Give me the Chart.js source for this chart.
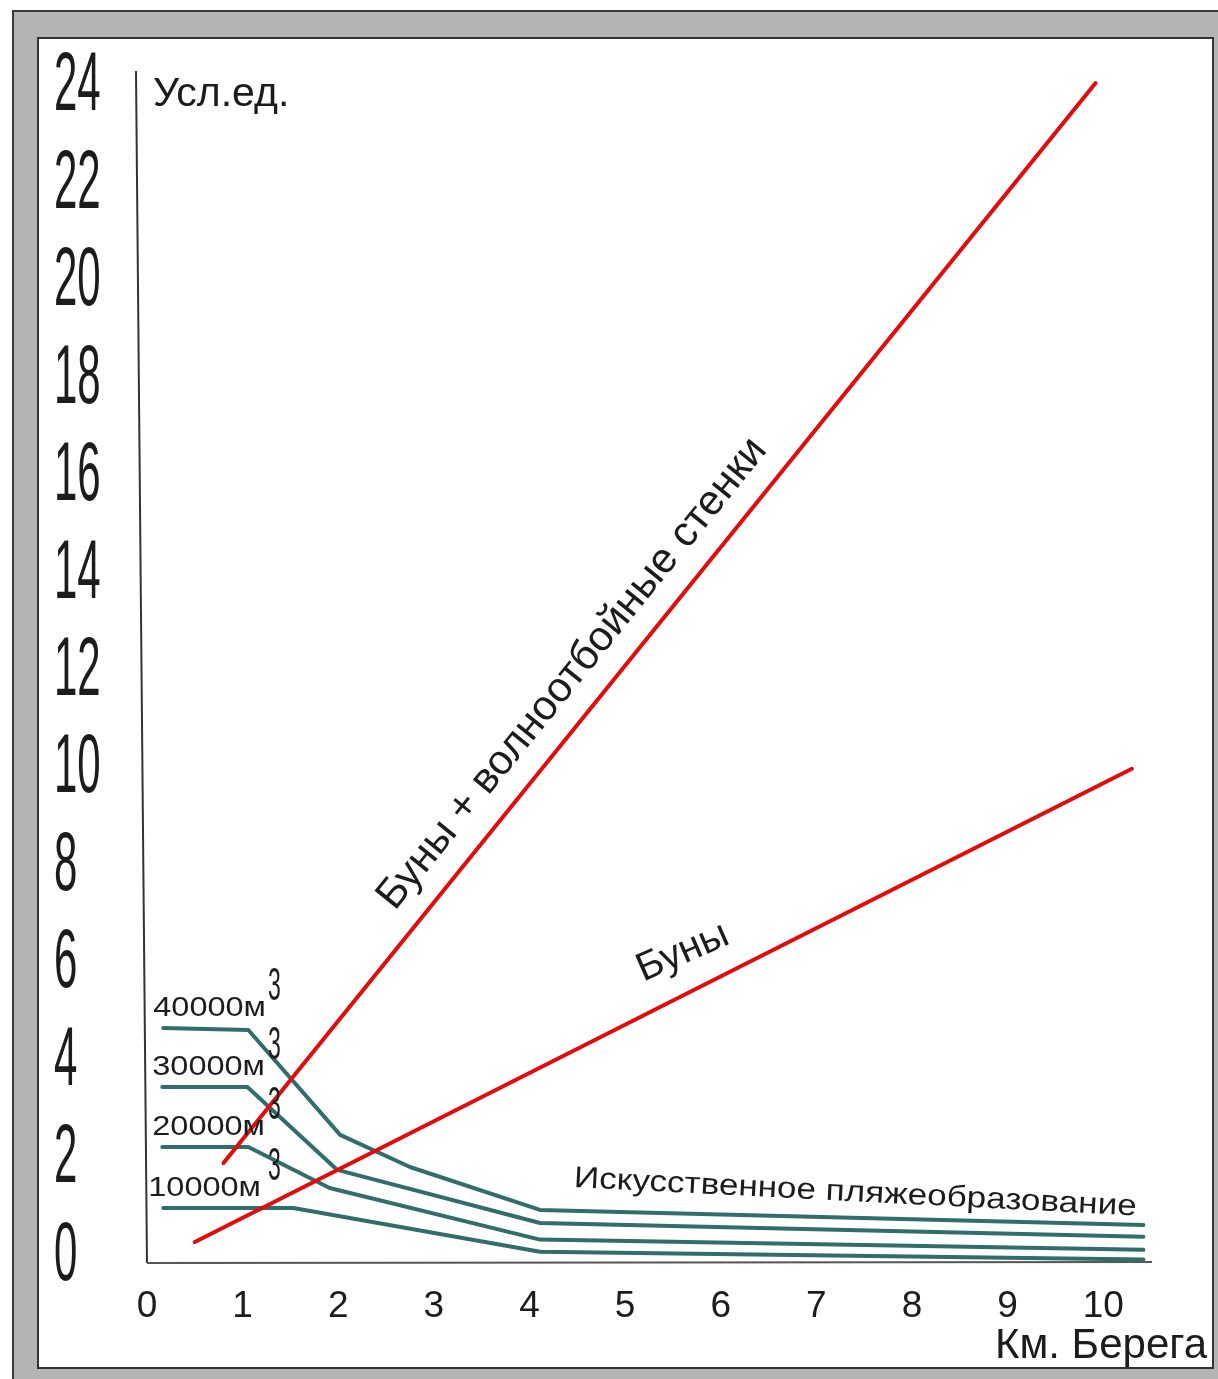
<html>
<head>
<meta charset="utf-8">
<script src="https://cdn.jsdelivr.net/npm/chart.js@4.4.1/dist/chart.umd.min.js"></script>
<style>
body { margin: 0; background: #fff; }
#outer { position: absolute; left: 12px; top: 10px; width: 1220px; height: 1380px; background: #b4b4b4; border-top: 2px solid #3a3a3a; border-left: 2px solid #3a3a3a; }
#inner { position: absolute; left: 37px; top: 37px; width: 1177px; height: 1332px; box-sizing: border-box; background: #fff; border: 2px solid #333; }
#wrap { position: absolute; left: 0; top: 0; width: 1218px; height: 1379px; }
</style>
</head>
<body>
<div id="outer"></div>
<div id="inner"></div>
<div id="wrap"><canvas id="chart" width="1218" height="1379"></canvas></div>
<script>
// tick labels
var xTicks = [0, 1, 2, 3, 4, 5, 6, 7, 8, 9, 10];
var yTicks = [0, 2, 4, 6, 8, 10, 12, 14, 16, 18, 20, 22, 24];

// red lines
var wallsX = [0.80, 9.92];
var wallsY = [1.78, 23.94];
var groinsX = [0.50, 10.30];
var groinsY = [0.16, 9.87];

// beach fill lines (teal), volume labels
var fill40X = [0.17, 1.06, 2.02, 2.75, 4.11, 10.42];
var fill40Y = [4.55, 4.51, 2.36, 1.70, 0.82, 0.51];
var fill30X = [0.16, 1.05, 1.99, 4.11, 10.42];
var fill30Y = [3.34, 3.34, 1.64, 0.55, 0.27];
var fill20X = [0.16, 1.06, 1.91, 4.11, 10.42];
var fill20Y = [2.11, 2.11, 1.27, 0.21, 0.00];
var fill10X = [0.17, 1.53, 4.11, 10.42];
var fill10Y = [0.86, 0.86, -0.04, -0.20];
var fillNames = ["40000м", "30000м", "20000м", "10000м"];

var RED = "#e30b0b", TEAL = "#2f6e6a", INK = "#1c1c1c";
var FONT = "'Liberation Sans', Arial, sans-serif";

function pts(xs, ys) {
	return xs.map(function(x, i) { return {x: x, y: ys[i]}; });
}

function line(label, xs, ys, color) {
	return {
		label: label,
		data: pts(xs, ys),
		borderColor: color,
		borderWidth: 4,
		pointRadius: 0,
		tension: 0,
		fill: false,
		borderJoinStyle: 'round',
		borderCapStyle: 'round'
	};
}

function text(ctx, str, x, y, font, opts) {
	opts = opts || {};
	ctx.save();
	ctx.translate(x, y);
	if (opts.angle) ctx.rotate(opts.angle * Math.PI / 180);
	ctx.scale(opts.sx || 1, 1);
	ctx.font = font;
	ctx.fillStyle = INK;
	ctx.textAlign = opts.align || 'left';
	ctx.textBaseline = 'alphabetic';
	ctx.fillText(str, 0, 0);
	ctx.restore();
}

var decor = {
	id: 'decor',
	beforeDatasetsDraw: function(chart) {
		var ctx = chart.ctx, a = chart.chartArea, xs = chart.scales.x;
		var x0 = xs.getPixelForValue(0);
		ctx.save();
		ctx.lineWidth = 2;
		ctx.strokeStyle = "#333";
		ctx.beginPath();
		ctx.moveTo(x0 - 11, a.top + 3);
		ctx.lineTo(x0, a.bottom);
		ctx.stroke();
		ctx.strokeStyle = "#555";
		ctx.beginPath();
		ctx.moveTo(x0, a.bottom);
		ctx.lineTo(a.right, a.bottom - 1);
		ctx.stroke();
		ctx.restore();
	},
	afterDatasetsDraw: function(chart) {
		var ctx = chart.ctx, a = chart.chartArea;
		var xs = chart.scales.x, ys = chart.scales.y;

		// y tick labels: tall condensed digits, left aligned
		yTicks.forEach(function(v) {
			text(ctx, String(v), 54, ys.getPixelForValue(v) + 30, "84px " + FONT, {sx: 0.5});
		});
		// x tick labels
		xTicks.forEach(function(v) {
			text(ctx, String(v), xs.getPixelForValue(v), a.bottom + 54, "37px " + FONT, {align: 'center'});
		});

		text(ctx, "Усл.ед.", a.left + 6, a.top + 38, "41px " + FONT);
		text(ctx, "Км. Берега", a.right + 55, a.bottom + 95, "42px " + FONT, {align: 'right'});

		// line captions
		text(ctx, "Буны + волноотбойные стенки", xs.getPixelForValue(2.59), ys.getPixelForValue(6.94), "42px " + FONT, {angle: -51});
		text(ctx, "Буны", xs.getPixelForValue(5.19), ys.getPixelForValue(5.50), "40px " + FONT, {angle: -23.7});
		text(ctx, "Искусственное пляжеобразование", xs.getPixelForValue(4.46), ys.getPixelForValue(1.29), "30px " + FONT, {angle: 2.9, sx: 1.17});

		// volume labels with superscript 3
		var starts = [[fill40X, fill40Y], [fill30X, fill30Y], [fill20X, fill20Y], [fill10X, fill10Y]];
		starts.forEach(function(s, i) {
			var px = xs.getPixelForValue(s[0][0]) - 10;
			var py = ys.getPixelForValue(s[1][0]) - 12;
			if (i == 3) px -= 5;
			text(ctx, fillNames[i], px, py, "28px " + FONT, {sx: 1.16});
			text(ctx, "3", 268, py - 16, "46px " + FONT, {sx: 0.5});
		});
	}
};

var ctx = document.getElementById('chart').getContext('2d');
var chart = new Chart(ctx, {
	type: 'line',
	data: {
		datasets: [
			line("Буны + волноотбойные стенки", wallsX, wallsY, RED),
			line("Буны", groinsX, groinsY, RED),
			line("40000", fill40X, fill40Y, TEAL),
			line("30000", fill30X, fill30Y, TEAL),
			line("20000", fill20X, fill20Y, TEAL),
			line("10000", fill10X, fill10Y, TEAL)
		]
	},
	options: {
		responsive: false,
		animation: false,
		layout: { padding: { left: 147, top: 68, right: 66, bottom: 116 } },
		scales: {
			x: { type: 'linear', min: 0, max: 10.51, display: false },
			y: { type: 'linear', min: -0.27, max: 24.25, display: false }
		},
		plugins: {
			legend: { display: false },
			tooltip: { enabled: false }
		}
	},
	plugins: [decor]
});
</script>
</body>
</html>
